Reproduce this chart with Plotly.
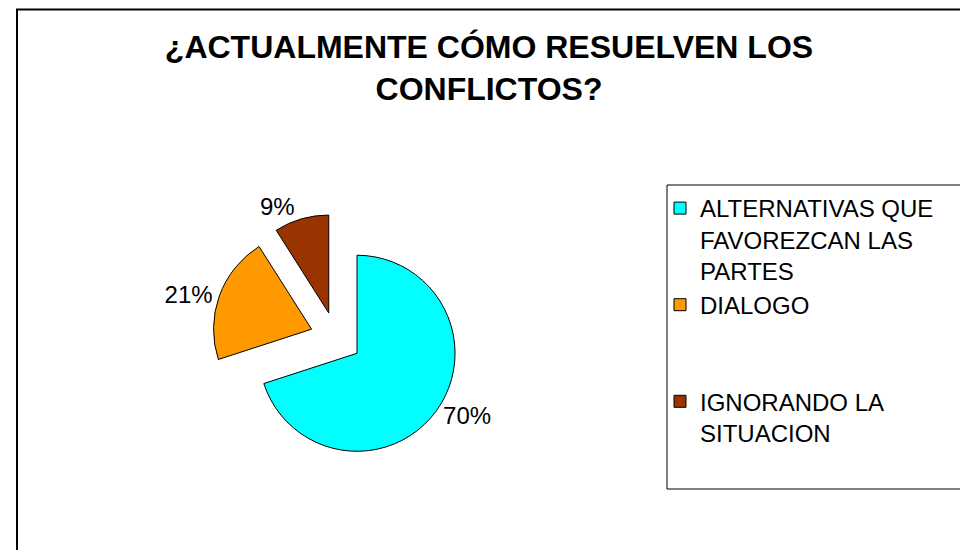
import plotly.graph_objects as go

# datos de la encuesta
labels = ["ALTERNATIVAS QUE<br>FAVOREZCAN LAS<br>PARTES", "DIALOGO<br> <br> ", "IGNORANDO LA<br>SITUACION"]
values = [70, 21, 9]
colors = ["#00FFFF", "#FF9900", "#993300"]

W, H = 968, 550
OFF = 8  # margen del body de la pagina


def px_x(x):
    return (x - OFF) / W


def px_y(y):
    return 1 - (y - OFF) / H


fig = go.Figure()

fig.add_trace(go.Pie(
    labels=labels,
    values=values,
    sort=False,
    direction="clockwise",
    rotation=0,
    pull=[0.265, 0.265, 0.265],
    marker=dict(colors=colors, line=dict(color="black", width=1)),
    texttemplate="%{percent:.0%}",
    textposition="outside",
    outsidetextfont=dict(color="black", size=24, family="Liberation Sans"),
    domain=dict(x=[px_x(336 - 124), px_x(336 + 124)], y=[px_y(338 + 124), px_y(338 - 124)]),
    hoverinfo="label+percent",
))

fig.update_layout(
    width=W, height=H,
    margin=dict(l=0, r=0, t=0, b=0),
    paper_bgcolor="white",
    plot_bgcolor="white",
    font=dict(family="Liberation Sans", color="black", size=24),
    title=dict(
        text="<b>¿ACTUALMENTE CÓMO RESUELVEN LOS<br>CONFLICTOS?</b>",
        x=px_x(489), xanchor="center",
        y=px_y(58), yanchor="top", yref="container",
        font=dict(size=32, family="Liberation Sans", color="black"),
    ),
    legend=dict(
        x=px_x(660), xanchor="left",
        y=px_y(186), yanchor="top",
        bgcolor="rgba(0,0,0,0)",
        borderwidth=0,
        valign="top",
        font=dict(size=24, family="Liberation Sans", color="black"),
    ),
    shapes=[
        # marco del grafico (el borde superior queda en el limite de la figura)
        dict(type="rect", xref="paper", yref="paper",
             x0=px_x(17), x1=1.05, y0=-0.05, y1=px_y(9.5),
             line=dict(color="black", width=2)),
        # cuadro de la leyenda
        dict(type="rect", xref="paper", yref="paper",
             x0=px_x(667), x1=px_x(962), y0=px_y(489), y1=px_y(185),
             line=dict(color="black", width=1)),
    ],
)

fig.write_html("out.html")
